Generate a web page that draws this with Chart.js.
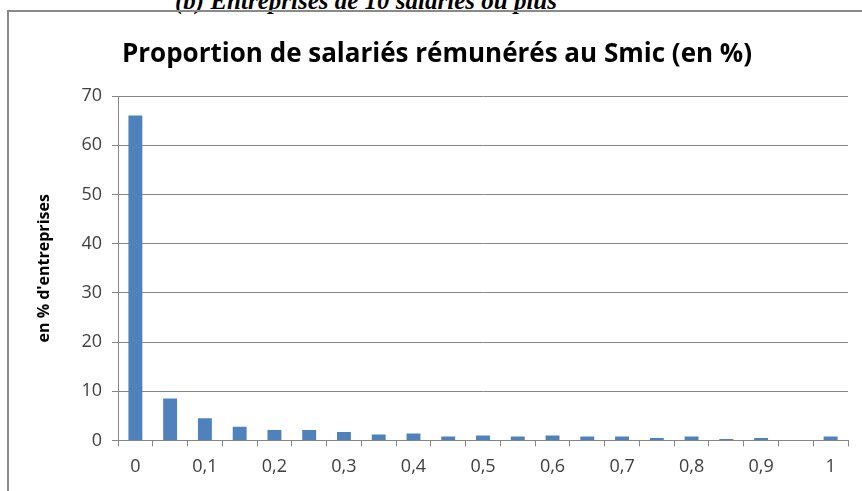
<!DOCTYPE html>
<html>
<head>
<meta charset="utf-8">
<script src="https://cdn.jsdelivr.net/npm/chart.js@4"></script>
<style>
  html, body { margin: 0; padding: 0; background: #fff; overflow: hidden; }
  #heading {
    position: absolute; left: 175px; top: -12px;
    font: italic bold 25px "Liberation Serif", serif; line-height: 25px;
    white-space: nowrap; color: #000;
  }
  #frame {
    position: absolute; left: 7px; top: 10px; width: 900px; height: 600px;
    border: 2px solid #8a8a8a;
  }
  #wrap { position: absolute; left: 0; top: 0; width: 862px; height: 491px; }
</style>
</head>
<body>
<div id="heading">(b) Entreprises de 10 salariés ou plus</div>
<div id="frame"></div>
<div id="wrap"><canvas id="chart"></canvas></div>
<script>
const categories = ['0', '0,05', '0,1', '0,15', '0,2', '0,25', '0,3', '0,35', '0,4', '0,45', '0,5',
  '0,55', '0,6', '0,65', '0,7', '0,75', '0,8', '0,85', '0,9', '0,95', '1'];
const shares = [66.1, 8.5, 4.5, 2.8, 2.1, 2.1, 1.7, 1.2, 1.4, 0.8, 1.0,
  0.8, 1.0, 0.8, 0.8, 0.5, 0.8, 0.3, 0.5, 0, 0.8];
const yTicks = [0, 10, 20, 30, 40, 50, 60, 70];

const axisGray = '#868686';
const textGray = '#404040';
const font = '"Open Sans", sans-serif';

new Chart(document.getElementById('chart'), {
  type: 'bar',
  data: {
    labels: categories,
    datasets: [{
      data: shares,
      backgroundColor: '#4f81bd',
      barPercentage: 0.4,
      categoryPercentage: 1
    }]
  },
  options: {
    responsive: true,
    maintainAspectRatio: false,
    animation: false,
    layout: { padding: { left: 26, right: 14, top: 0, bottom: 3 } },
    plugins: {
      legend: { display: false },
      tooltip: { enabled: false },
      title: {
        display: true,
        text: 'Proportion de salariés rémunérés au Smic (en %)',
        color: '#000',
        font: { family: font, size: 26, weight: 'bold' },
        padding: { top: 39, bottom: 26 }
      }
    },
    scales: {
      x: {
        offset: true,
        grid: { offset: true, drawOnChartArea: false, tickLength: 6, color: axisGray },
        border: { color: axisGray },
        ticks: {
          autoSkip: false, maxRotation: 0, padding: 10,
          color: textGray, font: { family: font, size: 18 },
          callback: (v, i) => i % 2 === 0 ? categories[i] : ''
        }
      },
      y: {
        min: 0, max: 70,
        afterBuildTicks: s => { s.ticks = yTicks.map(v => ({ value: v })); },
        afterFit: s => { s.width = 92; },
        grid: { color: axisGray, tickLength: 6 },
        border: { color: axisGray },
        ticks: { padding: 10, color: textGray, font: { family: font, size: 18 } },
        title: {
          display: true, text: "en % d'entreprises", color: '#000',
          font: { family: font, size: 16, weight: 'bold' },
          padding: { top: 9, bottom: 0 }
        }
      }
    }
  }
});
</script>
</body>
</html>
